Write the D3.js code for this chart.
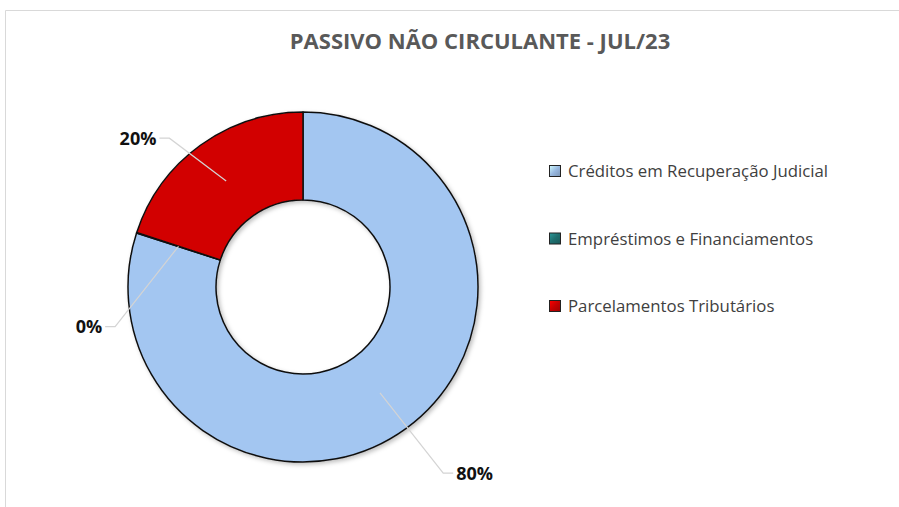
<!DOCTYPE html>
<html>
<head>
<meta charset="utf-8">
<script src="https://cdn.jsdelivr.net/npm/d3@7"></script>
<style>
  html, body { margin: 0; padding: 0; background: #fff; }
  svg { display: block; }
</style>
</head>
<body>
<div id="chart"></div>
<script>
// data
const title = 'PASSIVO NÃO CIRCULANTE - JUL/23';
const categories = ['Créditos em Recuperação Judicial', 'Empréstimos e Financiamentos', 'Parcelamentos Tributários'];
const values = [80.0, 0.05, 19.95];
const colors = ['#98b8e0', '#1f6f6f', '#c40000'];

const width = 899, height = 507;
const cx = 303, cy = 287, outerR = 175, innerR = 87;

// where each label sits: radius of the elbow and angle nudge (deg)
const labelLayout = [
	{ r: 233, da: -1 },
	{ r: 192, da: -30 },
	{ r: 200, da: -6 }
];

const svg = d3.select('#chart').append('svg')
	.attr('width', width)
	.attr('height', height);

const defs = svg.append('defs');

const shadow = defs.append('filter').attr('id', 'shadow')
	.attr('x', '-20%').attr('y', '-20%').attr('width', '140%').attr('height', '140%');
shadow.append('feDropShadow')
	.attr('dx', 2).attr('dy', 2).attr('stdDeviation', 2)
	.attr('flood-color', '#000').attr('flood-opacity', 0.25);

// bevel like shading for each slice
colors.forEach((c, i) => {
	const g = defs.append('radialGradient').attr('id', `grad${i}`)
		.attr('gradientUnits', 'userSpaceOnUse')
		.attr('cx', cx).attr('cy', cy).attr('r', outerR);
	const base = d3.color(c);
	g.append('stop').attr('offset', innerR / outerR).attr('stop-color', base.darker(0.3));
	g.append('stop').attr('offset', innerR / outerR + 0.04).attr('stop-color', base);
	g.append('stop').attr('offset', 0.95).attr('stop-color', base);
	g.append('stop').attr('offset', 1).attr('stop-color', base.brighter(0.2));

	const lg = defs.append('linearGradient').attr('id', `lgrad${i}`)
		.attr('x1', 0).attr('y1', 0).attr('x2', 1).attr('y2', 1);
	lg.append('stop').attr('offset', 0).attr('stop-color', base.brighter(0.9));
	lg.append('stop').attr('offset', 0.5).attr('stop-color', base);
	lg.append('stop').attr('offset', 1).attr('stop-color', base.darker(0.6));
});

// outer frame of the chart area
svg.append('path')
	.attr('d', `M5.5,${height} V10.5 H${width}`)
	.attr('fill', 'none')
	.attr('stroke', '#d9d9d9')
	.attr('stroke-width', 1);

svg.append('text')
	.attr('x', 480)
	.attr('y', 49)
	.attr('text-anchor', 'middle')
	.attr('font-family', 'Open Sans, sans-serif')
	.attr('font-weight', 'bold')
	.attr('font-size', 22)
	.attr('fill', '#595959')
	.text(title);

const pie = d3.pie().sort(null).value(d => d);
const arcs = pie(values);
const arc = d3.arc().innerRadius(innerR).outerRadius(outerR);
const midArc = d3.arc().innerRadius((innerR + outerR) / 2).outerRadius((innerR + outerR) / 2);

const donut = svg.append('g')
	.attr('transform', `translate(${cx},${cy})`);

donut.append('g')
	.attr('filter', 'url(#shadow)')
	.selectAll('path')
	.data(arcs)
	.join('path')
	.attr('d', arc)
	.attr('fill', (d, i) => `url(#grad${i})`)
	.attr('stroke', '#111')
	.attr('stroke-width', 1.5)
	.attr('stroke-linejoin', 'round');

// leader lines and labels
const fmt = d3.format('.0%');
const total = d3.sum(values);
const labels = donut.append('g');

arcs.forEach((d, i) => {
	const [sx, sy] = midArc.centroid(d);
	const mid = (d.startAngle + d.endAngle) / 2 + labelLayout[i].da * Math.PI / 180;
	const ex = Math.sin(mid) * labelLayout[i].r;
	const ey = -Math.cos(mid) * labelLayout[i].r;
	const side = ex >= 0 ? 1 : -1;
	const hx = ex + side * 10;

	labels.append('path')
		.attr('d', `M${sx},${sy} L${ex},${ey} L${hx},${ey}`)
		.attr('fill', 'none')
		.attr('stroke', '#d4d4d4')
		.attr('stroke-width', 1.2);

	labels.append('text')
		.attr('x', hx + side * 3)
		.attr('y', ey)
		.attr('dy', '0.36em')
		.attr('text-anchor', side > 0 ? 'start' : 'end')
		.attr('font-family', 'Open Sans, sans-serif')
		.attr('font-weight', 'bold')
		.attr('font-size', 18)
		.attr('fill', '#111')
		.text(fmt(values[i] / total));
});

// legend
const legendY = d3.scalePoint().domain(categories).range([171, 306]);

const legend = svg.append('g');
const item = legend.selectAll('g')
	.data(categories)
	.join('g')
	.attr('transform', d => `translate(549,${legendY(d)})`);

item.append('rect')
	.attr('x', 0.5).attr('y', -5.5)
	.attr('width', 11).attr('height', 11)
	.attr('fill', (d, i) => `url(#lgrad${i})`)
	.attr('stroke', '#222')
	.attr('stroke-width', 1);

item.append('text')
	.attr('x', 19)
	.attr('y', 0)
	.attr('dy', '0.36em')
	.attr('font-family', 'Open Sans, sans-serif')
	.attr('font-size', 16.8)
	.attr('fill', '#404040')
	.text(d => d);
</script>
</body>
</html>
